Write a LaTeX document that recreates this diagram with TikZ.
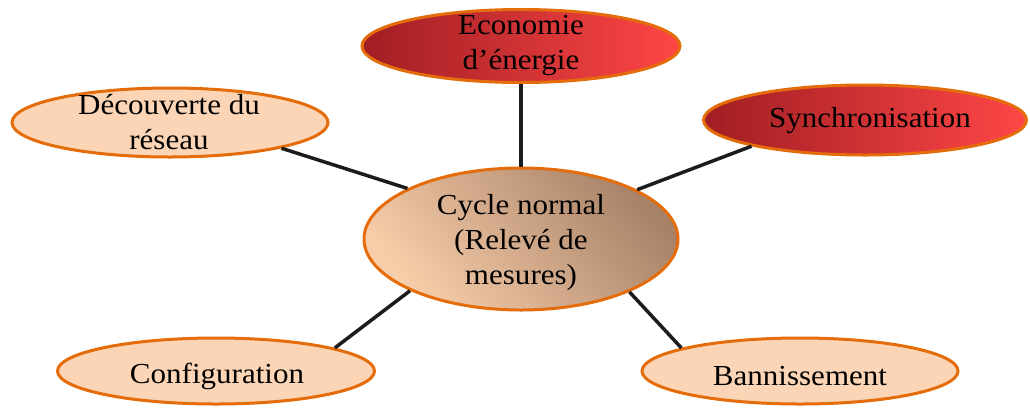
\documentclass[tikz,border=0pt]{standalone}
\usepackage{fontspec}
\setmainfont[FakeStretch=1.07]{Liberation Serif}
\usetikzlibrary{shapes.geometric}
\definecolor{peach}{RGB}{251,213,181}
\definecolor{obord}{RGB}{228,108,10}
\definecolor{rdark}{RGB}{160,30,35}
\definecolor{rlight}{RGB}{255,70,70}
\definecolor{brdark}{RGB}{168,130,104}
\definecolor{brlight}{RGB}{248,206,170}
\definecolor{lnk}{RGB}{28,28,28}
\tikzset{
  oval/.style={ellipse, draw=obord, line width=3pt, inner sep=0pt},
  lightoval/.style={oval, fill=peach},
  redoval/.style={oval, left color=rdark, right color=rlight},
  centoval/.style={oval, top color=brdark, bottom color=brlight, shading angle=-50},
  txt/.style={font=\fontsize{29}{35}\selectfont, align=center, text=black, inner sep=0pt},
  link/.style={draw=lnk, line width=3.5pt}
}
\begin{document}
\begin{tikzpicture}[x=1pt,y=-1pt]
\useasboundingbox (0,0) rectangle (1030,408);
\node[redoval, minimum width=318pt, minimum height=73pt] (eco) at (521,46) {};
\node[lightoval, minimum width=316pt, minimum height=69pt] (dec) at (170,122.5) {};
\node[redoval, minimum width=323pt, minimum height=70pt] (syn) at (865,120) {};
\node[centoval, minimum width=314pt, minimum height=142pt] (cyc) at (521,239) {};
\node[lightoval, minimum width=317pt, minimum height=66pt] (cfg) at (216,371) {};
\node[lightoval, minimum width=316pt, minimum height=66pt] (ban) at (800,371) {};
\node[txt] (teco) at (521,46) {Economie\\d’énergie};
\node[txt] (tdec) at (169,122) {Découverte du\\réseau};
\node[txt] (tsyn) at (870,121) {Synchronisation};
\node[txt] (tcyc) at (521,243) {Cycle normal\\(Relevé de\\mesures)};
\node[txt] (tcfg) at (217,376) {Configuration};
\node[txt] (tban) at (800,376) {Bannissement};
\draw[link] (eco.south) -- (cyc.north);
\draw[link] (dec.347.3) -- (cyc.156.7);
\draw[link] (syn.193.4) -- (cyc.23.6);
\draw[link] (cfg.11.5) -- (cyc.205.5);
\draw[link] (ban.169.5) -- (cyc.334);
\end{tikzpicture}
\end{document}
